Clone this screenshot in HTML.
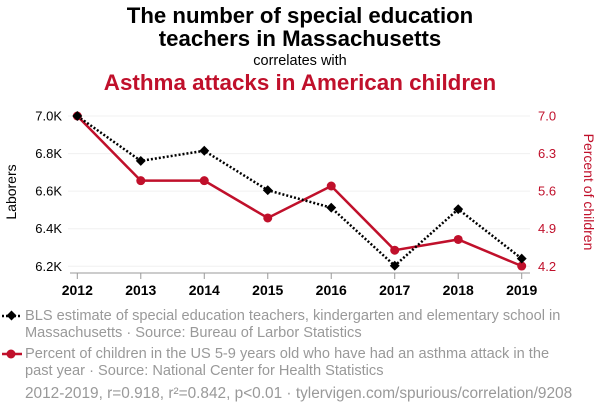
<!DOCTYPE html>
<html><head><meta charset="utf-8"><style>
body{margin:0;background:#fff;width:600px;height:414px;overflow:hidden;font-family:"Liberation Sans",sans-serif}
</style></head><body>
<svg width="600" height="414" xmlns="http://www.w3.org/2000/svg" id="svg">
<text x="300" y="23" text-anchor="middle" font-size="22.2" font-weight="bold" fill="#000">The number of special education</text>
<text x="300" y="46" text-anchor="middle" font-size="22.2" font-weight="bold" fill="#000">teachers in Massachusetts</text>
<text x="300" y="65" text-anchor="middle" font-size="14.5" fill="#000">correlates with</text>
<text x="300" y="90" text-anchor="middle" font-size="22.4" font-weight="bold" fill="#c0102b">Asthma attacks in American children</text>
<g id="grid"></g>
<g id="axes"></g>
<g id="series"></g>
<text transform="translate(16,192) rotate(-90)" text-anchor="middle" font-size="14" fill="#000">Laborers</text>
<text transform="translate(584,192) rotate(90)" text-anchor="middle" font-size="14" fill="#c0102b">Percent of children</text>
<g>
<line x1="2" y1="316" x2="22" y2="316" stroke="#000" stroke-width="2.5" stroke-dasharray="2,2"/>
<rect x="8" y="312" width="7" height="7" fill="#000" transform="rotate(45 11.5 315.5)"/>
<text x="25" y="320" font-size="14.6" fill="#999">BLS estimate of special education teachers, kindergarten and elementary school in</text>
<text x="25" y="337" font-size="14.6" fill="#999">Massachusetts · Source: Bureau of Larbor Statistics</text>
</g>
<g>
<line x1="2" y1="354" x2="22" y2="354" stroke="#c0102b" stroke-width="2.5"/>
<circle cx="11" cy="354" r="4.5" fill="#c0102b"/>
<text x="25" y="358" font-size="14.6" fill="#999">Percent of children in the US 5-9 years old who have had an asthma attack in the</text>
<text x="25" y="375" font-size="14.6" fill="#999">past year · Source: National Center for Health Statistics</text>
</g>
<text x="25" y="398" font-size="15.4" fill="#999">2012-2019, r=0.918, r²=0.842, p&lt;0.01 · tylervigen.com/spurious/correlation/9208</text>
</svg>
<script>
const years=[2012,2013,2014,2015,2016,2017,2018,2019];
const teachers=[7.0,6.761,6.815,6.605,6.512,6.203,6.504,6.241];
const asthma=[7.0,5.795,5.795,5.10,5.696,4.50,4.70,4.205];
const leftTicks=[6.2,6.4,6.6,6.8,7.0];
const leftTickLabels=["6.2K","6.4K","6.6K","6.8K","7.0K"];
const rightTicks=[4.2,4.9,5.6,6.3,7.0];
const rightTickLabels=["4.2","4.9","5.6","6.3","7.0"];
const NS="http://www.w3.org/2000/svg";
const x=i=>77.3+(521.7-77.3)*(years[i]-years[0])/(years[years.length-1]-years[0]);
const yL=v=>266.3-(v-6.2)/(7.0-6.2)*150.3;
const yR=v=>266.3-(v-4.2)/(7.0-4.2)*150.3;
function mk(tag,attrs,parent,txt){const e=document.createElementNS(NS,tag);for(const k in attrs)e.setAttribute(k,attrs[k]);if(txt!==undefined)e.textContent=txt;document.getElementById(parent).appendChild(e);return e;}
leftTicks.forEach((t,i)=>{
 let g=mk('line',{x1:68,x2:530,y1:yL(t),y2:yL(t),stroke:'#f0f0f0','stroke-width':1},'grid');
 
 
 let l=mk('text',{x:62,y:yL(t)+4.5,'text-anchor':'end','font-size':13,fill:'#000'},'axes',leftTickLabels[i]);
 
 
});
rightTicks.forEach((t,i)=>{
 let l=mk('text',{x:538,y:yR(t)+4.5,'font-size':13,fill:'#c0102b'},'axes',rightTickLabels[i]);
 
 
});
let ax=mk('line',{x1:70,x2:530,y1:273,y2:273,stroke:'#999','stroke-width':1},'axes');


years.forEach((yr,i)=>{
 mk('line',{x1:x(i),x2:x(i),y1:273,y2:279,stroke:'#999'},'axes');
 let l=mk('text',{x:x(i),y:295,'text-anchor':'middle','font-size':14,'font-weight':'bold',fill:'#000'},'axes',yr);
 
 
});
let rp=years.map((_,i)=>x(i)+','+yR(asthma[i])).join(' ');
let rl=mk('polyline',{points:rp,fill:'none',stroke:'#c0102b','stroke-width':2.5},'series');


let bp=years.map((_,i)=>x(i)+','+yL(teachers[i])).join(' ');
let bl=mk('polyline',{points:bp,fill:'none',stroke:'#000','stroke-width':2.5,'stroke-dasharray':'2,2'},'series');


years.forEach((_,i)=>{
 let c=mk('circle',{cx:x(i),cy:yR(asthma[i]),r:4.5,fill:'#c0102b'},'series');
 
 
 let cx=x(i),cy=yL(teachers[i]);
 let d=mk('rect',{x:cx-3.5,y:cy-3.5,width:7,height:7,fill:'#000',transform:`rotate(45 ${cx} ${cy})`},'series');
 
 
});
</script>
</body></html>
